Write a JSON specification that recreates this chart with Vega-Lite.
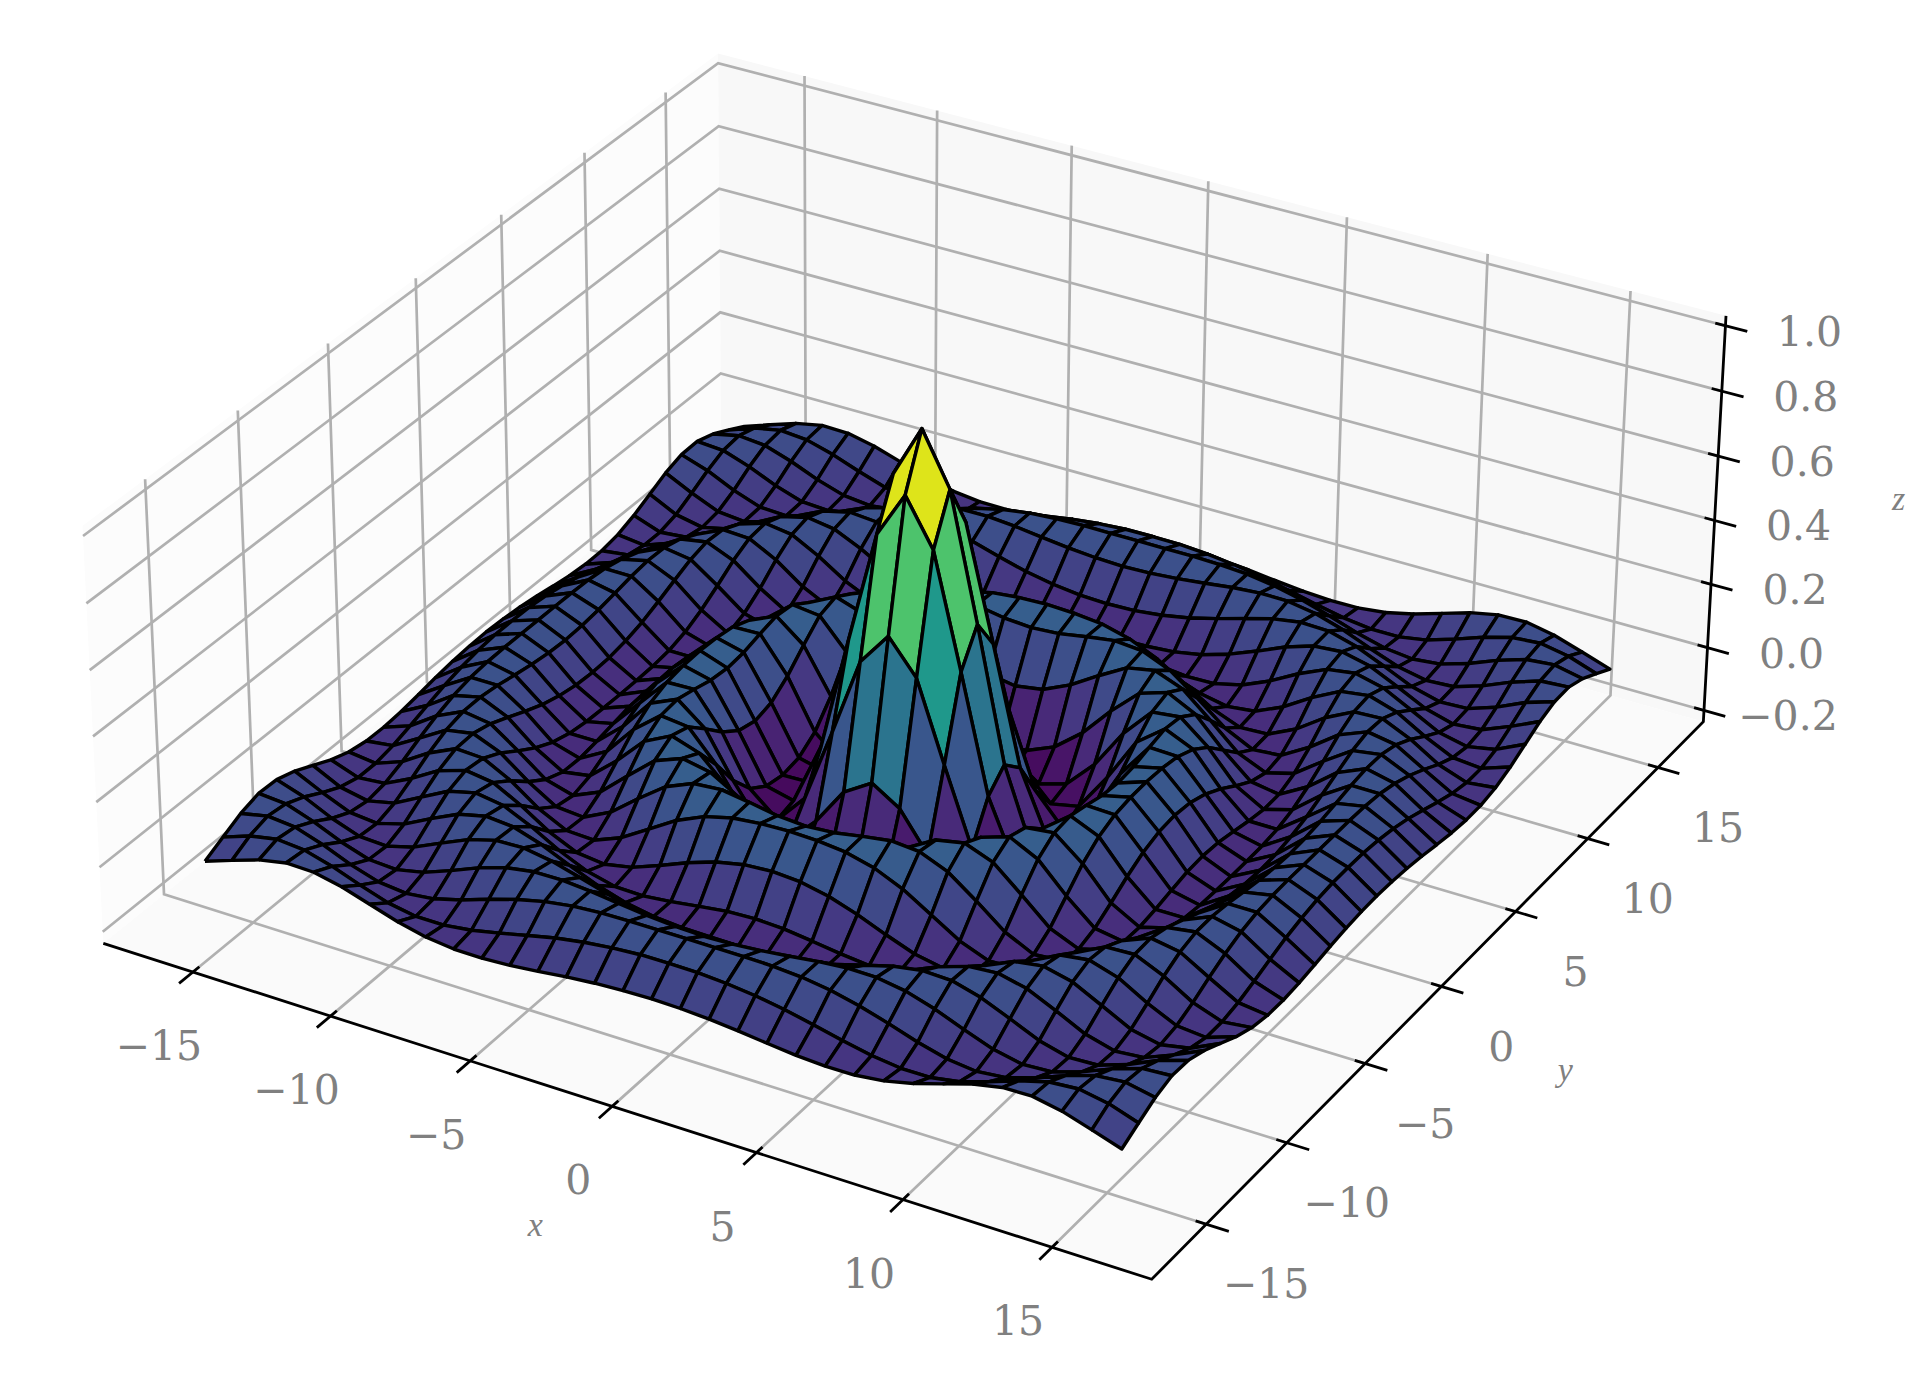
{"$schema":"https://vega.github.io/schema/vega-lite/v6.json","width":1927,"height":1388,"padding":0,"autosize":"none","background":"white","config":{"view":{"stroke":null}},
"datasets":{"axes":[
{"k":"pL","g":"pL","o":0,"x":-18.3,"y":-18.3,"z":-0.236},{"k":"pL","g":"pL","o":1,"x":-18.3,"y":18.3,"z":-0.236},{"k":"pL","g":"pL","o":2,"x":-18.3,"y":18.3,"z":1.03},{"k":"pL","g":"pL","o":3,"x":-18.3,"y":-18.3,"z":1.03},{"k":"pL","g":"pL","o":4,"x":-18.3,"y":-18.3,"z":-0.236},
{"k":"pR","g":"pR","o":0,"x":-18.3,"y":18.3,"z":-0.236},{"k":"pR","g":"pR","o":1,"x":18.3,"y":18.3,"z":-0.236},{"k":"pR","g":"pR","o":2,"x":18.3,"y":18.3,"z":1.03},{"k":"pR","g":"pR","o":3,"x":-18.3,"y":18.3,"z":1.03},{"k":"pR","g":"pR","o":4,"x":-18.3,"y":18.3,"z":-0.236},
{"k":"pF","g":"pF","o":0,"x":-18.3,"y":-18.3,"z":-0.236},{"k":"pF","g":"pF","o":1,"x":18.3,"y":-18.3,"z":-0.236},{"k":"pF","g":"pF","o":2,"x":18.3,"y":18.3,"z":-0.236},{"k":"pF","g":"pF","o":3,"x":-18.3,"y":18.3,"z":-0.236},{"k":"pF","g":"pF","o":4,"x":-18.3,"y":-18.3,"z":-0.236},
{"k":"grid","g":"x1","o":0,"x":-15,"y":-18.3,"z":-0.236},{"k":"grid","g":"x1","o":1,"x":-15,"y":18.3,"z":-0.236},{"k":"grid","g":"x1","o":2,"x":-15,"y":18.3,"z":1.03},
{"k":"grid","g":"x2","o":0,"x":-10,"y":-18.3,"z":-0.236},{"k":"grid","g":"x2","o":1,"x":-10,"y":18.3,"z":-0.236},{"k":"grid","g":"x2","o":2,"x":-10,"y":18.3,"z":1.03},
{"k":"grid","g":"x3","o":0,"x":-5,"y":-18.3,"z":-0.236},{"k":"grid","g":"x3","o":1,"x":-5,"y":18.3,"z":-0.236},{"k":"grid","g":"x3","o":2,"x":-5,"y":18.3,"z":1.03},
{"k":"grid","g":"x4","o":0,"x":0,"y":-18.3,"z":-0.236},{"k":"grid","g":"x4","o":1,"x":0,"y":18.3,"z":-0.236},{"k":"grid","g":"x4","o":2,"x":0,"y":18.3,"z":1.03},
{"k":"grid","g":"x5","o":0,"x":5,"y":-18.3,"z":-0.236},{"k":"grid","g":"x5","o":1,"x":5,"y":18.3,"z":-0.236},{"k":"grid","g":"x5","o":2,"x":5,"y":18.3,"z":1.03},
{"k":"grid","g":"x6","o":0,"x":10,"y":-18.3,"z":-0.236},{"k":"grid","g":"x6","o":1,"x":10,"y":18.3,"z":-0.236},{"k":"grid","g":"x6","o":2,"x":10,"y":18.3,"z":1.03},
{"k":"grid","g":"x7","o":0,"x":15,"y":-18.3,"z":-0.236},{"k":"grid","g":"x7","o":1,"x":15,"y":18.3,"z":-0.236},{"k":"grid","g":"x7","o":2,"x":15,"y":18.3,"z":1.03},
{"k":"grid","g":"y1","o":0,"x":18.3,"y":-15,"z":-0.236},{"k":"grid","g":"y1","o":1,"x":-18.3,"y":-15,"z":-0.236},{"k":"grid","g":"y1","o":2,"x":-18.3,"y":-15,"z":1.03},
{"k":"grid","g":"y2","o":0,"x":18.3,"y":-10,"z":-0.236},{"k":"grid","g":"y2","o":1,"x":-18.3,"y":-10,"z":-0.236},{"k":"grid","g":"y2","o":2,"x":-18.3,"y":-10,"z":1.03},
{"k":"grid","g":"y3","o":0,"x":18.3,"y":-5,"z":-0.236},{"k":"grid","g":"y3","o":1,"x":-18.3,"y":-5,"z":-0.236},{"k":"grid","g":"y3","o":2,"x":-18.3,"y":-5,"z":1.03},
{"k":"grid","g":"y4","o":0,"x":18.3,"y":0,"z":-0.236},{"k":"grid","g":"y4","o":1,"x":-18.3,"y":0,"z":-0.236},{"k":"grid","g":"y4","o":2,"x":-18.3,"y":0,"z":1.03},
{"k":"grid","g":"y5","o":0,"x":18.3,"y":5,"z":-0.236},{"k":"grid","g":"y5","o":1,"x":-18.3,"y":5,"z":-0.236},{"k":"grid","g":"y5","o":2,"x":-18.3,"y":5,"z":1.03},
{"k":"grid","g":"y6","o":0,"x":18.3,"y":10,"z":-0.236},{"k":"grid","g":"y6","o":1,"x":-18.3,"y":10,"z":-0.236},{"k":"grid","g":"y6","o":2,"x":-18.3,"y":10,"z":1.03},
{"k":"grid","g":"y7","o":0,"x":18.3,"y":15,"z":-0.236},{"k":"grid","g":"y7","o":1,"x":-18.3,"y":15,"z":-0.236},{"k":"grid","g":"y7","o":2,"x":-18.3,"y":15,"z":1.03},
{"k":"grid","g":"z1","o":0,"x":-18.3,"y":-18.3,"z":-0.2},{"k":"grid","g":"z1","o":1,"x":-18.3,"y":18.3,"z":-0.2},{"k":"grid","g":"z1","o":2,"x":18.3,"y":18.3,"z":-0.2},
{"k":"grid","g":"z2","o":0,"x":-18.3,"y":-18.3,"z":0},{"k":"grid","g":"z2","o":1,"x":-18.3,"y":18.3,"z":0},{"k":"grid","g":"z2","o":2,"x":18.3,"y":18.3,"z":0},
{"k":"grid","g":"z3","o":0,"x":-18.3,"y":-18.3,"z":0.2},{"k":"grid","g":"z3","o":1,"x":-18.3,"y":18.3,"z":0.2},{"k":"grid","g":"z3","o":2,"x":18.3,"y":18.3,"z":0.2},
{"k":"grid","g":"z4","o":0,"x":-18.3,"y":-18.3,"z":0.4},{"k":"grid","g":"z4","o":1,"x":-18.3,"y":18.3,"z":0.4},{"k":"grid","g":"z4","o":2,"x":18.3,"y":18.3,"z":0.4},
{"k":"grid","g":"z5","o":0,"x":-18.3,"y":-18.3,"z":0.6},{"k":"grid","g":"z5","o":1,"x":-18.3,"y":18.3,"z":0.6},{"k":"grid","g":"z5","o":2,"x":18.3,"y":18.3,"z":0.6},
{"k":"grid","g":"z6","o":0,"x":-18.3,"y":-18.3,"z":0.8},{"k":"grid","g":"z6","o":1,"x":-18.3,"y":18.3,"z":0.8},{"k":"grid","g":"z6","o":2,"x":18.3,"y":18.3,"z":0.8},
{"k":"grid","g":"z7","o":0,"x":-18.3,"y":-18.3,"z":1},{"k":"grid","g":"z7","o":1,"x":-18.3,"y":18.3,"z":1},{"k":"grid","g":"z7","o":2,"x":18.3,"y":18.3,"z":1},
{"k":"axis","g":"a","o":0,"x":-18.3,"y":-18.3,"z":-0.236},{"k":"axis","g":"a","o":1,"x":18.3,"y":-18.3,"z":-0.236},{"k":"axis","g":"a","o":2,"x":18.3,"y":18.3,"z":-0.236},{"k":"axis","g":"a","o":3,"x":18.3,"y":18.3,"z":1.03},
{"k":"axis","g":"tx1","o":0,"x":-15,"y":-17.95,"z":-0.236},{"k":"axis","g":"tx1","o":1,"x":-15,"y":-19.05,"z":-0.236},
{"k":"axis","g":"tx2","o":0,"x":-10,"y":-17.95,"z":-0.236},{"k":"axis","g":"tx2","o":1,"x":-10,"y":-19.05,"z":-0.236},
{"k":"axis","g":"tx3","o":0,"x":-5,"y":-17.95,"z":-0.236},{"k":"axis","g":"tx3","o":1,"x":-5,"y":-19.05,"z":-0.236},
{"k":"axis","g":"tx4","o":0,"x":0,"y":-17.95,"z":-0.236},{"k":"axis","g":"tx4","o":1,"x":0,"y":-19.05,"z":-0.236},
{"k":"axis","g":"tx5","o":0,"x":5,"y":-17.95,"z":-0.236},{"k":"axis","g":"tx5","o":1,"x":5,"y":-19.05,"z":-0.236},
{"k":"axis","g":"tx6","o":0,"x":10,"y":-17.95,"z":-0.236},{"k":"axis","g":"tx6","o":1,"x":10,"y":-19.05,"z":-0.236},
{"k":"axis","g":"tx7","o":0,"x":15,"y":-17.95,"z":-0.236},{"k":"axis","g":"tx7","o":1,"x":15,"y":-19.05,"z":-0.236},
{"k":"axis","g":"ty1","o":0,"x":17.95,"y":-15,"z":-0.236},{"k":"axis","g":"ty1","o":1,"x":19.05,"y":-15,"z":-0.236},
{"k":"axis","g":"ty2","o":0,"x":17.95,"y":-10,"z":-0.236},{"k":"axis","g":"ty2","o":1,"x":19.05,"y":-10,"z":-0.236},
{"k":"axis","g":"ty3","o":0,"x":17.95,"y":-5,"z":-0.236},{"k":"axis","g":"ty3","o":1,"x":19.05,"y":-5,"z":-0.236},
{"k":"axis","g":"ty4","o":0,"x":17.95,"y":0,"z":-0.236},{"k":"axis","g":"ty4","o":1,"x":19.05,"y":0,"z":-0.236},
{"k":"axis","g":"ty5","o":0,"x":17.95,"y":5,"z":-0.236},{"k":"axis","g":"ty5","o":1,"x":19.05,"y":5,"z":-0.236},
{"k":"axis","g":"ty6","o":0,"x":17.95,"y":10,"z":-0.236},{"k":"axis","g":"ty6","o":1,"x":19.05,"y":10,"z":-0.236},
{"k":"axis","g":"ty7","o":0,"x":17.95,"y":15,"z":-0.236},{"k":"axis","g":"ty7","o":1,"x":19.05,"y":15,"z":-0.236},
{"k":"axis","g":"tz1","o":0,"x":17.95,"y":18.3,"z":-0.2},{"k":"axis","g":"tz1","o":1,"x":19.05,"y":18.3,"z":-0.2},
{"k":"axis","g":"tz2","o":0,"x":17.95,"y":18.3,"z":0},{"k":"axis","g":"tz2","o":1,"x":19.05,"y":18.3,"z":0},
{"k":"axis","g":"tz3","o":0,"x":17.95,"y":18.3,"z":0.2},{"k":"axis","g":"tz3","o":1,"x":19.05,"y":18.3,"z":0.2},
{"k":"axis","g":"tz4","o":0,"x":17.95,"y":18.3,"z":0.4},{"k":"axis","g":"tz4","o":1,"x":19.05,"y":18.3,"z":0.4},
{"k":"axis","g":"tz5","o":0,"x":17.95,"y":18.3,"z":0.6},{"k":"axis","g":"tz5","o":1,"x":19.05,"y":18.3,"z":0.6},
{"k":"axis","g":"tz6","o":0,"x":17.95,"y":18.3,"z":0.8},{"k":"axis","g":"tz6","o":1,"x":19.05,"y":18.3,"z":0.8},
{"k":"axis","g":"tz7","o":0,"x":17.95,"y":18.3,"z":1},{"k":"axis","g":"tz7","o":1,"x":19.05,"y":18.3,"z":1},
{"k":"xt","t":"−15","x":-15,"y":-18.3,"z":-0.236},{"k":"xt","t":"−10","x":-10,"y":-18.3,"z":-0.236},{"k":"xt","t":"−5","x":-5,"y":-18.3,"z":-0.236},{"k":"xt","t":"0","x":0,"y":-18.3,"z":-0.236},{"k":"xt","t":"5","x":5,"y":-18.3,"z":-0.236},{"k":"xt","t":"10","x":10,"y":-18.3,"z":-0.236},{"k":"xt","t":"15","x":15,"y":-18.3,"z":-0.236},
{"k":"yt","t":"−15","x":18.3,"y":-15,"z":-0.236},{"k":"yt","t":"−10","x":18.3,"y":-10,"z":-0.236},{"k":"yt","t":"−5","x":18.3,"y":-5,"z":-0.236},{"k":"yt","t":"0","x":18.3,"y":0,"z":-0.236},{"k":"yt","t":"5","x":18.3,"y":5,"z":-0.236},{"k":"yt","t":"10","x":18.3,"y":10,"z":-0.236},{"k":"yt","t":"15","x":18.3,"y":15,"z":-0.236},
{"k":"zt","t":"−0.2","x":18.3,"y":18.3,"z":-0.2},{"k":"zt","t":"0.0","x":18.3,"y":18.3,"z":0},{"k":"zt","t":"0.2","x":18.3,"y":18.3,"z":0.2},{"k":"zt","t":"0.4","x":18.3,"y":18.3,"z":0.4},{"k":"zt","t":"0.6","x":18.3,"y":18.3,"z":0.6},{"k":"zt","t":"0.8","x":18.3,"y":18.3,"z":0.8},{"k":"zt","t":"1.0","x":18.3,"y":18.3,"z":1},
{"k":"xn","t":"x","x":0,"y":-18.3,"z":-0.236},{"k":"yn","t":"y","x":18.3,"y":0,"z":-0.236},{"k":"zn","t":"z","x":18.3,"y":18.3,"z":0.4}
],
"surface":[
{"x":-16,"y":16,"z":-0.026},{"x":-15,"y":16,"z":0.003},{"x":-14,"y":16,"z":0.031},{"x":-13,"y":16,"z":0.048},{"x":-12,"y":16,"z":0.046},{"x":-11,"y":16,"z":0.028},{"x":-10,"y":16,"z":0.001},{"x":-9,"y":16,"z":-0.026},{"x":-8,"y":16,"z":-0.046},{"x":-7,"y":16,"z":-0.056},{"x":-6,"y":16,"z":-0.057},{"x":-5,"y":16,"z":-0.052},{"x":-4,"y":16,"z":-0.043},{"x":-3,"y":16,"z":-0.033},{"x":-2,"y":16,"z":-0.025},{"x":-1,"y":16,"z":-0.02},{"x":0,"y":16,"z":-0.018},{"x":1,"y":16,"z":-0.02},{"x":2,"y":16,"z":-0.025},{"x":3,"y":16,"z":-0.033},{"x":4,"y":16,"z":-0.043},{"x":5,"y":16,"z":-0.052},{"x":6,"y":16,"z":-0.057},{"x":7,"y":16,"z":-0.056},{"x":8,"y":16,"z":-0.046},{"x":9,"y":16,"z":-0.026},{"x":10,"y":16,"z":0.001},{"x":11,"y":16,"z":0.028},{"x":12,"y":16,"z":0.046},{"x":13,"y":16,"z":0.048},{"x":14,"y":16,"z":0.031},{"x":15,"y":16,"z":0.003},{"x":16,"y":16,"z":-0.026},
{"x":-16,"y":15,"z":0.003},{"x":-15,"y":15,"z":0.033},{"x":-14,"y":15,"z":0.049},{"x":-13,"y":15,"z":0.042},{"x":-12,"y":15,"z":0.018},{"x":-11,"y":15,"z":-0.013},{"x":-10,"y":15,"z":-0.041},{"x":-9,"y":15,"z":-0.056},{"x":-8,"y":15,"z":-0.056},{"x":-7,"y":15,"z":-0.045},{"x":-6,"y":15,"z":-0.027},{"x":-5,"y":15,"z":-0.007},{"x":-4,"y":15,"z":0.012},{"x":-3,"y":15,"z":0.026},{"x":-2,"y":15,"z":0.036},{"x":-1,"y":15,"z":0.042},{"x":0,"y":15,"z":0.043},{"x":1,"y":15,"z":0.042},{"x":2,"y":15,"z":0.036},{"x":3,"y":15,"z":0.026},{"x":4,"y":15,"z":0.012},{"x":5,"y":15,"z":-0.007},{"x":6,"y":15,"z":-0.027},{"x":7,"y":15,"z":-0.045},{"x":8,"y":15,"z":-0.056},{"x":9,"y":15,"z":-0.056},{"x":10,"y":15,"z":-0.041},{"x":11,"y":15,"z":-0.013},{"x":12,"y":15,"z":0.018},{"x":13,"y":15,"z":0.042},{"x":14,"y":15,"z":0.049},{"x":15,"y":15,"z":0.033},{"x":16,"y":15,"z":0.003},
{"x":-16,"y":14,"z":0.031},{"x":-15,"y":14,"z":0.049},{"x":-14,"y":14,"z":0.041},{"x":-13,"y":14,"z":0.013},{"x":-12,"y":14,"z":-0.022},{"x":-11,"y":14,"z":-0.049},{"x":-10,"y":14,"z":-0.058},{"x":-9,"y":14,"z":-0.048},{"x":-8,"y":14,"z":-0.025},{"x":-7,"y":14,"z":0.004},{"x":-6,"y":14,"z":0.03},{"x":-5,"y":14,"z":0.05},{"x":-4,"y":14,"z":0.063},{"x":-3,"y":14,"z":0.069},{"x":-2,"y":14,"z":0.071},{"x":-1,"y":14,"z":0.071},{"x":0,"y":14,"z":0.071},{"x":1,"y":14,"z":0.071},{"x":2,"y":14,"z":0.071},{"x":3,"y":14,"z":0.069},{"x":4,"y":14,"z":0.063},{"x":5,"y":14,"z":0.05},{"x":6,"y":14,"z":0.03},{"x":7,"y":14,"z":0.004},{"x":8,"y":14,"z":-0.025},{"x":9,"y":14,"z":-0.048},{"x":10,"y":14,"z":-0.058},{"x":11,"y":14,"z":-0.049},{"x":12,"y":14,"z":-0.022},{"x":13,"y":14,"z":0.013},{"x":14,"y":14,"z":0.041},{"x":15,"y":14,"z":0.049},{"x":16,"y":14,"z":0.031},
{"x":-16,"y":13,"z":0.048},{"x":-15,"y":13,"z":0.042},{"x":-14,"y":13,"z":0.013},{"x":-13,"y":13,"z":-0.024},{"x":-12,"y":13,"z":-0.052},{"x":-11,"y":13,"z":-0.057},{"x":-10,"y":13,"z":-0.039},{"x":-9,"y":13,"z":-0.007},{"x":-8,"y":13,"z":0.028},{"x":-7,"y":13,"z":0.055},{"x":-6,"y":13,"z":0.069},{"x":-5,"y":13,"z":0.07},{"x":-4,"y":13,"z":0.063},{"x":-3,"y":13,"z":0.052},{"x":-2,"y":13,"z":0.042},{"x":-1,"y":13,"z":0.035},{"x":0,"y":13,"z":0.032},{"x":1,"y":13,"z":0.035},{"x":2,"y":13,"z":0.042},{"x":3,"y":13,"z":0.052},{"x":4,"y":13,"z":0.063},{"x":5,"y":13,"z":0.07},{"x":6,"y":13,"z":0.069},{"x":7,"y":13,"z":0.055},{"x":8,"y":13,"z":0.028},{"x":9,"y":13,"z":-0.007},{"x":10,"y":13,"z":-0.039},{"x":11,"y":13,"z":-0.057},{"x":12,"y":13,"z":-0.052},{"x":13,"y":13,"z":-0.024},{"x":14,"y":13,"z":0.013},{"x":15,"y":13,"z":0.042},{"x":16,"y":13,"z":0.048},
{"x":-16,"y":12,"z":0.046},{"x":-15,"y":12,"z":0.018},{"x":-14,"y":12,"z":-0.022},{"x":-13,"y":12,"z":-0.052},{"x":-12,"y":12,"z":-0.056},{"x":-11,"y":12,"z":-0.033},{"x":-10,"y":12,"z":0.006},{"x":-9,"y":12,"z":0.043},{"x":-8,"y":12,"z":0.067},{"x":-7,"y":12,"z":0.07},{"x":-6,"y":12,"z":0.056},{"x":-5,"y":12,"z":0.032},{"x":-4,"y":12,"z":0.007},{"x":-3,"y":12,"z":-0.016},{"x":-2,"y":12,"z":-0.032},{"x":-1,"y":12,"z":-0.042},{"x":0,"y":12,"z":-0.045},{"x":1,"y":12,"z":-0.042},{"x":2,"y":12,"z":-0.032},{"x":3,"y":12,"z":-0.016},{"x":4,"y":12,"z":0.007},{"x":5,"y":12,"z":0.032},{"x":6,"y":12,"z":0.056},{"x":7,"y":12,"z":0.07},{"x":8,"y":12,"z":0.067},{"x":9,"y":12,"z":0.043},{"x":10,"y":12,"z":0.006},{"x":11,"y":12,"z":-0.033},{"x":12,"y":12,"z":-0.056},{"x":13,"y":12,"z":-0.052},{"x":14,"y":12,"z":-0.022},{"x":15,"y":12,"z":0.018},{"x":16,"y":12,"z":0.046},
{"x":-16,"y":11,"z":0.028},{"x":-15,"y":11,"z":-0.013},{"x":-14,"y":11,"z":-0.049},{"x":-13,"y":11,"z":-0.057},{"x":-12,"y":11,"z":-0.033},{"x":-11,"y":11,"z":0.01},{"x":-10,"y":11,"z":0.05},{"x":-9,"y":11,"z":0.07},{"x":-8,"y":11,"z":0.063},{"x":-7,"y":11,"z":0.035},{"x":-6,"y":11,"z":-0.003},{"x":-5,"y":11,"z":-0.038},{"x":-4,"y":11,"z":-0.065},{"x":-3,"y":11,"z":-0.081},{"x":-2,"y":11,"z":-0.088},{"x":-1,"y":11,"z":-0.09},{"x":0,"y":11,"z":-0.091},{"x":1,"y":11,"z":-0.09},{"x":2,"y":11,"z":-0.088},{"x":3,"y":11,"z":-0.081},{"x":4,"y":11,"z":-0.065},{"x":5,"y":11,"z":-0.038},{"x":6,"y":11,"z":-0.003},{"x":7,"y":11,"z":0.035},{"x":8,"y":11,"z":0.063},{"x":9,"y":11,"z":0.07},{"x":10,"y":11,"z":0.05},{"x":11,"y":11,"z":0.01},{"x":12,"y":11,"z":-0.033},{"x":13,"y":11,"z":-0.057},{"x":14,"y":11,"z":-0.049},{"x":15,"y":11,"z":-0.013},{"x":16,"y":11,"z":0.028},
{"x":-16,"y":10,"z":0.001},{"x":-15,"y":10,"z":-0.041},{"x":-14,"y":10,"z":-0.058},{"x":-13,"y":10,"z":-0.039},{"x":-12,"y":10,"z":0.006},{"x":-11,"y":10,"z":0.05},{"x":-10,"y":10,"z":0.071},{"x":-9,"y":10,"z":0.058},{"x":-8,"y":10,"z":0.019},{"x":-7,"y":10,"z":-0.029},{"x":-6,"y":10,"z":-0.067},{"x":-5,"y":10,"z":-0.088},{"x":-4,"y":10,"z":-0.09},{"x":-3,"y":10,"z":-0.081},{"x":-2,"y":10,"z":-0.069},{"x":-1,"y":10,"z":-0.058},{"x":0,"y":10,"z":-0.054},{"x":1,"y":10,"z":-0.058},{"x":2,"y":10,"z":-0.069},{"x":3,"y":10,"z":-0.081},{"x":4,"y":10,"z":-0.09},{"x":5,"y":10,"z":-0.088},{"x":6,"y":10,"z":-0.067},{"x":7,"y":10,"z":-0.029},{"x":8,"y":10,"z":0.019},{"x":9,"y":10,"z":0.058},{"x":10,"y":10,"z":0.071},{"x":11,"y":10,"z":0.05},{"x":12,"y":10,"z":0.006},{"x":13,"y":10,"z":-0.039},{"x":14,"y":10,"z":-0.058},{"x":15,"y":10,"z":-0.041},{"x":16,"y":10,"z":0.001},
{"x":-16,"y":9,"z":-0.026},{"x":-15,"y":9,"z":-0.056},{"x":-14,"y":9,"z":-0.048},{"x":-13,"y":9,"z":-0.007},{"x":-12,"y":9,"z":0.043},{"x":-11,"y":9,"z":0.07},{"x":-10,"y":9,"z":0.058},{"x":-9,"y":9,"z":0.013},{"x":-8,"y":9,"z":-0.042},{"x":-7,"y":9,"z":-0.081},{"x":-6,"y":9,"z":-0.091},{"x":-5,"y":9,"z":-0.074},{"x":-4,"y":9,"z":-0.042},{"x":-3,"y":9,"z":-0.007},{"x":-2,"y":9,"z":0.022},{"x":-1,"y":9,"z":0.04},{"x":0,"y":9,"z":0.046},{"x":1,"y":9,"z":0.04},{"x":2,"y":9,"z":0.022},{"x":3,"y":9,"z":-0.007},{"x":4,"y":9,"z":-0.042},{"x":5,"y":9,"z":-0.074},{"x":6,"y":9,"z":-0.091},{"x":7,"y":9,"z":-0.081},{"x":8,"y":9,"z":-0.042},{"x":9,"y":9,"z":0.013},{"x":10,"y":9,"z":0.058},{"x":11,"y":9,"z":0.07},{"x":12,"y":9,"z":0.043},{"x":13,"y":9,"z":-0.007},{"x":14,"y":9,"z":-0.048},{"x":15,"y":9,"z":-0.056},{"x":16,"y":9,"z":-0.026},
{"x":-16,"y":8,"z":-0.046},{"x":-15,"y":8,"z":-0.056},{"x":-14,"y":8,"z":-0.025},{"x":-13,"y":8,"z":0.028},{"x":-12,"y":8,"z":0.067},{"x":-11,"y":8,"z":0.063},{"x":-10,"y":8,"z":0.019},{"x":-9,"y":8,"z":-0.042},{"x":-8,"y":8,"z":-0.084},{"x":-7,"y":8,"z":-0.088},{"x":-6,"y":8,"z":-0.054},{"x":-5,"y":8,"z":-0.001},{"x":-4,"y":8,"z":0.052},{"x":-3,"y":8,"z":0.09},{"x":-2,"y":8,"z":0.112},{"x":-1,"y":8,"z":0.121},{"x":0,"y":8,"z":0.124},{"x":1,"y":8,"z":0.121},{"x":2,"y":8,"z":0.112},{"x":3,"y":8,"z":0.09},{"x":4,"y":8,"z":0.052},{"x":5,"y":8,"z":-0.001},{"x":6,"y":8,"z":-0.054},{"x":7,"y":8,"z":-0.088},{"x":8,"y":8,"z":-0.084},{"x":9,"y":8,"z":-0.042},{"x":10,"y":8,"z":0.019},{"x":11,"y":8,"z":0.063},{"x":12,"y":8,"z":0.067},{"x":13,"y":8,"z":0.028},{"x":14,"y":8,"z":-0.025},{"x":15,"y":8,"z":-0.056},{"x":16,"y":8,"z":-0.046},
{"x":-16,"y":7,"z":-0.056},{"x":-15,"y":7,"z":-0.045},{"x":-14,"y":7,"z":0.004},{"x":-13,"y":7,"z":0.055},{"x":-12,"y":7,"z":0.07},{"x":-11,"y":7,"z":0.035},{"x":-10,"y":7,"z":-0.029},{"x":-9,"y":7,"z":-0.081},{"x":-8,"y":7,"z":-0.088},{"x":-7,"y":7,"z":-0.046},{"x":-6,"y":7,"z":0.022},{"x":-5,"y":7,"z":0.085},{"x":-4,"y":7,"z":0.121},{"x":-3,"y":7,"z":0.128},{"x":-2,"y":7,"z":0.115},{"x":-1,"y":7,"z":0.1},{"x":0,"y":7,"z":0.094},{"x":1,"y":7,"z":0.1},{"x":2,"y":7,"z":0.115},{"x":3,"y":7,"z":0.128},{"x":4,"y":7,"z":0.121},{"x":5,"y":7,"z":0.085},{"x":6,"y":7,"z":0.022},{"x":7,"y":7,"z":-0.046},{"x":8,"y":7,"z":-0.088},{"x":9,"y":7,"z":-0.081},{"x":10,"y":7,"z":-0.029},{"x":11,"y":7,"z":0.035},{"x":12,"y":7,"z":0.07},{"x":13,"y":7,"z":0.055},{"x":14,"y":7,"z":0.004},{"x":15,"y":7,"z":-0.045},{"x":16,"y":7,"z":-0.056},
{"x":-16,"y":6,"z":-0.057},{"x":-15,"y":6,"z":-0.027},{"x":-14,"y":6,"z":0.03},{"x":-13,"y":6,"z":0.069},{"x":-12,"y":6,"z":0.056},{"x":-11,"y":6,"z":-0.003},{"x":-10,"y":6,"z":-0.067},{"x":-9,"y":6,"z":-0.091},{"x":-8,"y":6,"z":-0.054},{"x":-7,"y":6,"z":0.022},{"x":-6,"y":6,"z":0.095},{"x":-5,"y":6,"z":0.128},{"x":-4,"y":6,"z":0.111},{"x":-3,"y":6,"z":0.061},{"x":-2,"y":6,"z":0.007},{"x":-1,"y":6,"z":-0.033},{"x":0,"y":6,"z":-0.047},{"x":1,"y":6,"z":-0.033},{"x":2,"y":6,"z":0.007},{"x":3,"y":6,"z":0.061},{"x":4,"y":6,"z":0.111},{"x":5,"y":6,"z":0.128},{"x":6,"y":6,"z":0.095},{"x":7,"y":6,"z":0.022},{"x":8,"y":6,"z":-0.054},{"x":9,"y":6,"z":-0.091},{"x":10,"y":6,"z":-0.067},{"x":11,"y":6,"z":-0.003},{"x":12,"y":6,"z":0.056},{"x":13,"y":6,"z":0.069},{"x":14,"y":6,"z":0.03},{"x":15,"y":6,"z":-0.027},{"x":16,"y":6,"z":-0.057},
{"x":-16,"y":5,"z":-0.052},{"x":-15,"y":5,"z":-0.007},{"x":-14,"y":5,"z":0.05},{"x":-13,"y":5,"z":0.07},{"x":-12,"y":5,"z":0.032},{"x":-11,"y":5,"z":-0.038},{"x":-10,"y":5,"z":-0.088},{"x":-9,"y":5,"z":-0.074},{"x":-8,"y":5,"z":-0.001},{"x":-7,"y":5,"z":0.085},{"x":-6,"y":5,"z":0.128},{"x":-5,"y":5,"z":0.1},{"x":-4,"y":5,"z":0.019},{"x":-3,"y":5,"z":-0.075},{"x":-2,"y":5,"z":-0.145},{"x":-1,"y":5,"z":-0.182},{"x":0,"y":5,"z":-0.192},{"x":1,"y":5,"z":-0.182},{"x":2,"y":5,"z":-0.145},{"x":3,"y":5,"z":-0.075},{"x":4,"y":5,"z":0.019},{"x":5,"y":5,"z":0.1},{"x":6,"y":5,"z":0.128},{"x":7,"y":5,"z":0.085},{"x":8,"y":5,"z":-0.001},{"x":9,"y":5,"z":-0.074},{"x":10,"y":5,"z":-0.088},{"x":11,"y":5,"z":-0.038},{"x":12,"y":5,"z":0.032},{"x":13,"y":5,"z":0.07},{"x":14,"y":5,"z":0.05},{"x":15,"y":5,"z":-0.007},{"x":16,"y":5,"z":-0.052},
{"x":-16,"y":4,"z":-0.043},{"x":-15,"y":4,"z":0.012},{"x":-14,"y":4,"z":0.063},{"x":-13,"y":4,"z":0.063},{"x":-12,"y":4,"z":0.007},{"x":-11,"y":4,"z":-0.065},{"x":-10,"y":4,"z":-0.09},{"x":-9,"y":4,"z":-0.042},{"x":-8,"y":4,"z":0.052},{"x":-7,"y":4,"z":0.121},{"x":-6,"y":4,"z":0.111},{"x":-5,"y":4,"z":0.019},{"x":-4,"y":4,"z":-0.104},{"x":-3,"y":4,"z":-0.192},{"x":-2,"y":4,"z":-0.217},{"x":-1,"y":4,"z":-0.202},{"x":0,"y":4,"z":-0.189},{"x":1,"y":4,"z":-0.202},{"x":2,"y":4,"z":-0.217},{"x":3,"y":4,"z":-0.192},{"x":4,"y":4,"z":-0.104},{"x":5,"y":4,"z":0.019},{"x":6,"y":4,"z":0.111},{"x":7,"y":4,"z":0.121},{"x":8,"y":4,"z":0.052},{"x":9,"y":4,"z":-0.042},{"x":10,"y":4,"z":-0.09},{"x":11,"y":4,"z":-0.065},{"x":12,"y":4,"z":0.007},{"x":13,"y":4,"z":0.063},{"x":14,"y":4,"z":0.063},{"x":15,"y":4,"z":0.012},{"x":16,"y":4,"z":-0.043},
{"x":-16,"y":3,"z":-0.033},{"x":-15,"y":3,"z":0.026},{"x":-14,"y":3,"z":0.069},{"x":-13,"y":3,"z":0.052},{"x":-12,"y":3,"z":-0.016},{"x":-11,"y":3,"z":-0.081},{"x":-10,"y":3,"z":-0.081},{"x":-9,"y":3,"z":-0.007},{"x":-8,"y":3,"z":0.09},{"x":-7,"y":3,"z":0.128},{"x":-6,"y":3,"z":0.061},{"x":-5,"y":3,"z":-0.075},{"x":-4,"y":3,"z":-0.192},{"x":-3,"y":3,"z":-0.21},{"x":-2,"y":3,"z":-0.124},{"x":-1,"y":3,"z":-0.007},{"x":0,"y":3,"z":0.047},{"x":1,"y":3,"z":-0.007},{"x":2,"y":3,"z":-0.124},{"x":3,"y":3,"z":-0.21},{"x":4,"y":3,"z":-0.192},{"x":5,"y":3,"z":-0.075},{"x":6,"y":3,"z":0.061},{"x":7,"y":3,"z":0.128},{"x":8,"y":3,"z":0.09},{"x":9,"y":3,"z":-0.007},{"x":10,"y":3,"z":-0.081},{"x":11,"y":3,"z":-0.081},{"x":12,"y":3,"z":-0.016},{"x":13,"y":3,"z":0.052},{"x":14,"y":3,"z":0.069},{"x":15,"y":3,"z":0.026},{"x":16,"y":3,"z":-0.033},
{"x":-16,"y":2,"z":-0.025},{"x":-15,"y":2,"z":0.036},{"x":-14,"y":2,"z":0.071},{"x":-13,"y":2,"z":0.042},{"x":-12,"y":2,"z":-0.032},{"x":-11,"y":2,"z":-0.088},{"x":-10,"y":2,"z":-0.069},{"x":-9,"y":2,"z":0.022},{"x":-8,"y":2,"z":0.112},{"x":-7,"y":2,"z":0.115},{"x":-6,"y":2,"z":0.007},{"x":-5,"y":2,"z":-0.145},{"x":-4,"y":2,"z":-0.217},{"x":-3,"y":2,"z":-0.124},{"x":-2,"y":2,"z":0.109},{"x":-1,"y":2,"z":0.352},{"x":0,"y":2,"z":0.455},{"x":1,"y":2,"z":0.352},{"x":2,"y":2,"z":0.109},{"x":3,"y":2,"z":-0.124},{"x":4,"y":2,"z":-0.217},{"x":5,"y":2,"z":-0.145},{"x":6,"y":2,"z":0.007},{"x":7,"y":2,"z":0.115},{"x":8,"y":2,"z":0.112},{"x":9,"y":2,"z":0.022},{"x":10,"y":2,"z":-0.069},{"x":11,"y":2,"z":-0.088},{"x":12,"y":2,"z":-0.032},{"x":13,"y":2,"z":0.042},{"x":14,"y":2,"z":0.071},{"x":15,"y":2,"z":0.036},{"x":16,"y":2,"z":-0.025},
{"x":-16,"y":1,"z":-0.02},{"x":-15,"y":1,"z":0.042},{"x":-14,"y":1,"z":0.071},{"x":-13,"y":1,"z":0.035},{"x":-12,"y":1,"z":-0.042},{"x":-11,"y":1,"z":-0.09},{"x":-10,"y":1,"z":-0.058},{"x":-9,"y":1,"z":0.04},{"x":-8,"y":1,"z":0.121},{"x":-7,"y":1,"z":0.1},{"x":-6,"y":1,"z":-0.033},{"x":-5,"y":1,"z":-0.182},{"x":-4,"y":1,"z":-0.202},{"x":-3,"y":1,"z":-0.007},{"x":-2,"y":1,"z":0.352},{"x":-1,"y":1,"z":0.699},{"x":0,"y":1,"z":0.841},{"x":1,"y":1,"z":0.699},{"x":2,"y":1,"z":0.352},{"x":3,"y":1,"z":-0.007},{"x":4,"y":1,"z":-0.202},{"x":5,"y":1,"z":-0.182},{"x":6,"y":1,"z":-0.033},{"x":7,"y":1,"z":0.1},{"x":8,"y":1,"z":0.121},{"x":9,"y":1,"z":0.04},{"x":10,"y":1,"z":-0.058},{"x":11,"y":1,"z":-0.09},{"x":12,"y":1,"z":-0.042},{"x":13,"y":1,"z":0.035},{"x":14,"y":1,"z":0.071},{"x":15,"y":1,"z":0.042},{"x":16,"y":1,"z":-0.02},
{"x":-16,"y":0,"z":-0.018},{"x":-15,"y":0,"z":0.043},{"x":-14,"y":0,"z":0.071},{"x":-13,"y":0,"z":0.032},{"x":-12,"y":0,"z":-0.045},{"x":-11,"y":0,"z":-0.091},{"x":-10,"y":0,"z":-0.054},{"x":-9,"y":0,"z":0.046},{"x":-8,"y":0,"z":0.124},{"x":-7,"y":0,"z":0.094},{"x":-6,"y":0,"z":-0.047},{"x":-5,"y":0,"z":-0.192},{"x":-4,"y":0,"z":-0.189},{"x":-3,"y":0,"z":0.047},{"x":-2,"y":0,"z":0.455},{"x":-1,"y":0,"z":0.841},{"x":0,"y":0,"z":1},{"x":1,"y":0,"z":0.841},{"x":2,"y":0,"z":0.455},{"x":3,"y":0,"z":0.047},{"x":4,"y":0,"z":-0.189},{"x":5,"y":0,"z":-0.192},{"x":6,"y":0,"z":-0.047},{"x":7,"y":0,"z":0.094},{"x":8,"y":0,"z":0.124},{"x":9,"y":0,"z":0.046},{"x":10,"y":0,"z":-0.054},{"x":11,"y":0,"z":-0.091},{"x":12,"y":0,"z":-0.045},{"x":13,"y":0,"z":0.032},{"x":14,"y":0,"z":0.071},{"x":15,"y":0,"z":0.043},{"x":16,"y":0,"z":-0.018},
{"x":-16,"y":-1,"z":-0.02},{"x":-15,"y":-1,"z":0.042},{"x":-14,"y":-1,"z":0.071},{"x":-13,"y":-1,"z":0.035},{"x":-12,"y":-1,"z":-0.042},{"x":-11,"y":-1,"z":-0.09},{"x":-10,"y":-1,"z":-0.058},{"x":-9,"y":-1,"z":0.04},{"x":-8,"y":-1,"z":0.121},{"x":-7,"y":-1,"z":0.1},{"x":-6,"y":-1,"z":-0.033},{"x":-5,"y":-1,"z":-0.182},{"x":-4,"y":-1,"z":-0.202},{"x":-3,"y":-1,"z":-0.007},{"x":-2,"y":-1,"z":0.352},{"x":-1,"y":-1,"z":0.699},{"x":0,"y":-1,"z":0.841},{"x":1,"y":-1,"z":0.699},{"x":2,"y":-1,"z":0.352},{"x":3,"y":-1,"z":-0.007},{"x":4,"y":-1,"z":-0.202},{"x":5,"y":-1,"z":-0.182},{"x":6,"y":-1,"z":-0.033},{"x":7,"y":-1,"z":0.1},{"x":8,"y":-1,"z":0.121},{"x":9,"y":-1,"z":0.04},{"x":10,"y":-1,"z":-0.058},{"x":11,"y":-1,"z":-0.09},{"x":12,"y":-1,"z":-0.042},{"x":13,"y":-1,"z":0.035},{"x":14,"y":-1,"z":0.071},{"x":15,"y":-1,"z":0.042},{"x":16,"y":-1,"z":-0.02},
{"x":-16,"y":-2,"z":-0.025},{"x":-15,"y":-2,"z":0.036},{"x":-14,"y":-2,"z":0.071},{"x":-13,"y":-2,"z":0.042},{"x":-12,"y":-2,"z":-0.032},{"x":-11,"y":-2,"z":-0.088},{"x":-10,"y":-2,"z":-0.069},{"x":-9,"y":-2,"z":0.022},{"x":-8,"y":-2,"z":0.112},{"x":-7,"y":-2,"z":0.115},{"x":-6,"y":-2,"z":0.007},{"x":-5,"y":-2,"z":-0.145},{"x":-4,"y":-2,"z":-0.217},{"x":-3,"y":-2,"z":-0.124},{"x":-2,"y":-2,"z":0.109},{"x":-1,"y":-2,"z":0.352},{"x":0,"y":-2,"z":0.455},{"x":1,"y":-2,"z":0.352},{"x":2,"y":-2,"z":0.109},{"x":3,"y":-2,"z":-0.124},{"x":4,"y":-2,"z":-0.217},{"x":5,"y":-2,"z":-0.145},{"x":6,"y":-2,"z":0.007},{"x":7,"y":-2,"z":0.115},{"x":8,"y":-2,"z":0.112},{"x":9,"y":-2,"z":0.022},{"x":10,"y":-2,"z":-0.069},{"x":11,"y":-2,"z":-0.088},{"x":12,"y":-2,"z":-0.032},{"x":13,"y":-2,"z":0.042},{"x":14,"y":-2,"z":0.071},{"x":15,"y":-2,"z":0.036},{"x":16,"y":-2,"z":-0.025},
{"x":-16,"y":-3,"z":-0.033},{"x":-15,"y":-3,"z":0.026},{"x":-14,"y":-3,"z":0.069},{"x":-13,"y":-3,"z":0.052},{"x":-12,"y":-3,"z":-0.016},{"x":-11,"y":-3,"z":-0.081},{"x":-10,"y":-3,"z":-0.081},{"x":-9,"y":-3,"z":-0.007},{"x":-8,"y":-3,"z":0.09},{"x":-7,"y":-3,"z":0.128},{"x":-6,"y":-3,"z":0.061},{"x":-5,"y":-3,"z":-0.075},{"x":-4,"y":-3,"z":-0.192},{"x":-3,"y":-3,"z":-0.21},{"x":-2,"y":-3,"z":-0.124},{"x":-1,"y":-3,"z":-0.007},{"x":0,"y":-3,"z":0.047},{"x":1,"y":-3,"z":-0.007},{"x":2,"y":-3,"z":-0.124},{"x":3,"y":-3,"z":-0.21},{"x":4,"y":-3,"z":-0.192},{"x":5,"y":-3,"z":-0.075},{"x":6,"y":-3,"z":0.061},{"x":7,"y":-3,"z":0.128},{"x":8,"y":-3,"z":0.09},{"x":9,"y":-3,"z":-0.007},{"x":10,"y":-3,"z":-0.081},{"x":11,"y":-3,"z":-0.081},{"x":12,"y":-3,"z":-0.016},{"x":13,"y":-3,"z":0.052},{"x":14,"y":-3,"z":0.069},{"x":15,"y":-3,"z":0.026},{"x":16,"y":-3,"z":-0.033},
{"x":-16,"y":-4,"z":-0.043},{"x":-15,"y":-4,"z":0.012},{"x":-14,"y":-4,"z":0.063},{"x":-13,"y":-4,"z":0.063},{"x":-12,"y":-4,"z":0.007},{"x":-11,"y":-4,"z":-0.065},{"x":-10,"y":-4,"z":-0.09},{"x":-9,"y":-4,"z":-0.042},{"x":-8,"y":-4,"z":0.052},{"x":-7,"y":-4,"z":0.121},{"x":-6,"y":-4,"z":0.111},{"x":-5,"y":-4,"z":0.019},{"x":-4,"y":-4,"z":-0.104},{"x":-3,"y":-4,"z":-0.192},{"x":-2,"y":-4,"z":-0.217},{"x":-1,"y":-4,"z":-0.202},{"x":0,"y":-4,"z":-0.189},{"x":1,"y":-4,"z":-0.202},{"x":2,"y":-4,"z":-0.217},{"x":3,"y":-4,"z":-0.192},{"x":4,"y":-4,"z":-0.104},{"x":5,"y":-4,"z":0.019},{"x":6,"y":-4,"z":0.111},{"x":7,"y":-4,"z":0.121},{"x":8,"y":-4,"z":0.052},{"x":9,"y":-4,"z":-0.042},{"x":10,"y":-4,"z":-0.09},{"x":11,"y":-4,"z":-0.065},{"x":12,"y":-4,"z":0.007},{"x":13,"y":-4,"z":0.063},{"x":14,"y":-4,"z":0.063},{"x":15,"y":-4,"z":0.012},{"x":16,"y":-4,"z":-0.043},
{"x":-16,"y":-5,"z":-0.052},{"x":-15,"y":-5,"z":-0.007},{"x":-14,"y":-5,"z":0.05},{"x":-13,"y":-5,"z":0.07},{"x":-12,"y":-5,"z":0.032},{"x":-11,"y":-5,"z":-0.038},{"x":-10,"y":-5,"z":-0.088},{"x":-9,"y":-5,"z":-0.074},{"x":-8,"y":-5,"z":-0.001},{"x":-7,"y":-5,"z":0.085},{"x":-6,"y":-5,"z":0.128},{"x":-5,"y":-5,"z":0.1},{"x":-4,"y":-5,"z":0.019},{"x":-3,"y":-5,"z":-0.075},{"x":-2,"y":-5,"z":-0.145},{"x":-1,"y":-5,"z":-0.182},{"x":0,"y":-5,"z":-0.192},{"x":1,"y":-5,"z":-0.182},{"x":2,"y":-5,"z":-0.145},{"x":3,"y":-5,"z":-0.075},{"x":4,"y":-5,"z":0.019},{"x":5,"y":-5,"z":0.1},{"x":6,"y":-5,"z":0.128},{"x":7,"y":-5,"z":0.085},{"x":8,"y":-5,"z":-0.001},{"x":9,"y":-5,"z":-0.074},{"x":10,"y":-5,"z":-0.088},{"x":11,"y":-5,"z":-0.038},{"x":12,"y":-5,"z":0.032},{"x":13,"y":-5,"z":0.07},{"x":14,"y":-5,"z":0.05},{"x":15,"y":-5,"z":-0.007},{"x":16,"y":-5,"z":-0.052},
{"x":-16,"y":-6,"z":-0.057},{"x":-15,"y":-6,"z":-0.027},{"x":-14,"y":-6,"z":0.03},{"x":-13,"y":-6,"z":0.069},{"x":-12,"y":-6,"z":0.056},{"x":-11,"y":-6,"z":-0.003},{"x":-10,"y":-6,"z":-0.067},{"x":-9,"y":-6,"z":-0.091},{"x":-8,"y":-6,"z":-0.054},{"x":-7,"y":-6,"z":0.022},{"x":-6,"y":-6,"z":0.095},{"x":-5,"y":-6,"z":0.128},{"x":-4,"y":-6,"z":0.111},{"x":-3,"y":-6,"z":0.061},{"x":-2,"y":-6,"z":0.007},{"x":-1,"y":-6,"z":-0.033},{"x":0,"y":-6,"z":-0.047},{"x":1,"y":-6,"z":-0.033},{"x":2,"y":-6,"z":0.007},{"x":3,"y":-6,"z":0.061},{"x":4,"y":-6,"z":0.111},{"x":5,"y":-6,"z":0.128},{"x":6,"y":-6,"z":0.095},{"x":7,"y":-6,"z":0.022},{"x":8,"y":-6,"z":-0.054},{"x":9,"y":-6,"z":-0.091},{"x":10,"y":-6,"z":-0.067},{"x":11,"y":-6,"z":-0.003},{"x":12,"y":-6,"z":0.056},{"x":13,"y":-6,"z":0.069},{"x":14,"y":-6,"z":0.03},{"x":15,"y":-6,"z":-0.027},{"x":16,"y":-6,"z":-0.057},
{"x":-16,"y":-7,"z":-0.056},{"x":-15,"y":-7,"z":-0.045},{"x":-14,"y":-7,"z":0.004},{"x":-13,"y":-7,"z":0.055},{"x":-12,"y":-7,"z":0.07},{"x":-11,"y":-7,"z":0.035},{"x":-10,"y":-7,"z":-0.029},{"x":-9,"y":-7,"z":-0.081},{"x":-8,"y":-7,"z":-0.088},{"x":-7,"y":-7,"z":-0.046},{"x":-6,"y":-7,"z":0.022},{"x":-5,"y":-7,"z":0.085},{"x":-4,"y":-7,"z":0.121},{"x":-3,"y":-7,"z":0.128},{"x":-2,"y":-7,"z":0.115},{"x":-1,"y":-7,"z":0.1},{"x":0,"y":-7,"z":0.094},{"x":1,"y":-7,"z":0.1},{"x":2,"y":-7,"z":0.115},{"x":3,"y":-7,"z":0.128},{"x":4,"y":-7,"z":0.121},{"x":5,"y":-7,"z":0.085},{"x":6,"y":-7,"z":0.022},{"x":7,"y":-7,"z":-0.046},{"x":8,"y":-7,"z":-0.088},{"x":9,"y":-7,"z":-0.081},{"x":10,"y":-7,"z":-0.029},{"x":11,"y":-7,"z":0.035},{"x":12,"y":-7,"z":0.07},{"x":13,"y":-7,"z":0.055},{"x":14,"y":-7,"z":0.004},{"x":15,"y":-7,"z":-0.045},{"x":16,"y":-7,"z":-0.056},
{"x":-16,"y":-8,"z":-0.046},{"x":-15,"y":-8,"z":-0.056},{"x":-14,"y":-8,"z":-0.025},{"x":-13,"y":-8,"z":0.028},{"x":-12,"y":-8,"z":0.067},{"x":-11,"y":-8,"z":0.063},{"x":-10,"y":-8,"z":0.019},{"x":-9,"y":-8,"z":-0.042},{"x":-8,"y":-8,"z":-0.084},{"x":-7,"y":-8,"z":-0.088},{"x":-6,"y":-8,"z":-0.054},{"x":-5,"y":-8,"z":-0.001},{"x":-4,"y":-8,"z":0.052},{"x":-3,"y":-8,"z":0.09},{"x":-2,"y":-8,"z":0.112},{"x":-1,"y":-8,"z":0.121},{"x":0,"y":-8,"z":0.124},{"x":1,"y":-8,"z":0.121},{"x":2,"y":-8,"z":0.112},{"x":3,"y":-8,"z":0.09},{"x":4,"y":-8,"z":0.052},{"x":5,"y":-8,"z":-0.001},{"x":6,"y":-8,"z":-0.054},{"x":7,"y":-8,"z":-0.088},{"x":8,"y":-8,"z":-0.084},{"x":9,"y":-8,"z":-0.042},{"x":10,"y":-8,"z":0.019},{"x":11,"y":-8,"z":0.063},{"x":12,"y":-8,"z":0.067},{"x":13,"y":-8,"z":0.028},{"x":14,"y":-8,"z":-0.025},{"x":15,"y":-8,"z":-0.056},{"x":16,"y":-8,"z":-0.046},
{"x":-16,"y":-9,"z":-0.026},{"x":-15,"y":-9,"z":-0.056},{"x":-14,"y":-9,"z":-0.048},{"x":-13,"y":-9,"z":-0.007},{"x":-12,"y":-9,"z":0.043},{"x":-11,"y":-9,"z":0.07},{"x":-10,"y":-9,"z":0.058},{"x":-9,"y":-9,"z":0.013},{"x":-8,"y":-9,"z":-0.042},{"x":-7,"y":-9,"z":-0.081},{"x":-6,"y":-9,"z":-0.091},{"x":-5,"y":-9,"z":-0.074},{"x":-4,"y":-9,"z":-0.042},{"x":-3,"y":-9,"z":-0.007},{"x":-2,"y":-9,"z":0.022},{"x":-1,"y":-9,"z":0.04},{"x":0,"y":-9,"z":0.046},{"x":1,"y":-9,"z":0.04},{"x":2,"y":-9,"z":0.022},{"x":3,"y":-9,"z":-0.007},{"x":4,"y":-9,"z":-0.042},{"x":5,"y":-9,"z":-0.074},{"x":6,"y":-9,"z":-0.091},{"x":7,"y":-9,"z":-0.081},{"x":8,"y":-9,"z":-0.042},{"x":9,"y":-9,"z":0.013},{"x":10,"y":-9,"z":0.058},{"x":11,"y":-9,"z":0.07},{"x":12,"y":-9,"z":0.043},{"x":13,"y":-9,"z":-0.007},{"x":14,"y":-9,"z":-0.048},{"x":15,"y":-9,"z":-0.056},{"x":16,"y":-9,"z":-0.026},
{"x":-16,"y":-10,"z":0.001},{"x":-15,"y":-10,"z":-0.041},{"x":-14,"y":-10,"z":-0.058},{"x":-13,"y":-10,"z":-0.039},{"x":-12,"y":-10,"z":0.006},{"x":-11,"y":-10,"z":0.05},{"x":-10,"y":-10,"z":0.071},{"x":-9,"y":-10,"z":0.058},{"x":-8,"y":-10,"z":0.019},{"x":-7,"y":-10,"z":-0.029},{"x":-6,"y":-10,"z":-0.067},{"x":-5,"y":-10,"z":-0.088},{"x":-4,"y":-10,"z":-0.09},{"x":-3,"y":-10,"z":-0.081},{"x":-2,"y":-10,"z":-0.069},{"x":-1,"y":-10,"z":-0.058},{"x":0,"y":-10,"z":-0.054},{"x":1,"y":-10,"z":-0.058},{"x":2,"y":-10,"z":-0.069},{"x":3,"y":-10,"z":-0.081},{"x":4,"y":-10,"z":-0.09},{"x":5,"y":-10,"z":-0.088},{"x":6,"y":-10,"z":-0.067},{"x":7,"y":-10,"z":-0.029},{"x":8,"y":-10,"z":0.019},{"x":9,"y":-10,"z":0.058},{"x":10,"y":-10,"z":0.071},{"x":11,"y":-10,"z":0.05},{"x":12,"y":-10,"z":0.006},{"x":13,"y":-10,"z":-0.039},{"x":14,"y":-10,"z":-0.058},{"x":15,"y":-10,"z":-0.041},{"x":16,"y":-10,"z":0.001},
{"x":-16,"y":-11,"z":0.028},{"x":-15,"y":-11,"z":-0.013},{"x":-14,"y":-11,"z":-0.049},{"x":-13,"y":-11,"z":-0.057},{"x":-12,"y":-11,"z":-0.033},{"x":-11,"y":-11,"z":0.01},{"x":-10,"y":-11,"z":0.05},{"x":-9,"y":-11,"z":0.07},{"x":-8,"y":-11,"z":0.063},{"x":-7,"y":-11,"z":0.035},{"x":-6,"y":-11,"z":-0.003},{"x":-5,"y":-11,"z":-0.038},{"x":-4,"y":-11,"z":-0.065},{"x":-3,"y":-11,"z":-0.081},{"x":-2,"y":-11,"z":-0.088},{"x":-1,"y":-11,"z":-0.09},{"x":0,"y":-11,"z":-0.091},{"x":1,"y":-11,"z":-0.09},{"x":2,"y":-11,"z":-0.088},{"x":3,"y":-11,"z":-0.081},{"x":4,"y":-11,"z":-0.065},{"x":5,"y":-11,"z":-0.038},{"x":6,"y":-11,"z":-0.003},{"x":7,"y":-11,"z":0.035},{"x":8,"y":-11,"z":0.063},{"x":9,"y":-11,"z":0.07},{"x":10,"y":-11,"z":0.05},{"x":11,"y":-11,"z":0.01},{"x":12,"y":-11,"z":-0.033},{"x":13,"y":-11,"z":-0.057},{"x":14,"y":-11,"z":-0.049},{"x":15,"y":-11,"z":-0.013},{"x":16,"y":-11,"z":0.028},
{"x":-16,"y":-12,"z":0.046},{"x":-15,"y":-12,"z":0.018},{"x":-14,"y":-12,"z":-0.022},{"x":-13,"y":-12,"z":-0.052},{"x":-12,"y":-12,"z":-0.056},{"x":-11,"y":-12,"z":-0.033},{"x":-10,"y":-12,"z":0.006},{"x":-9,"y":-12,"z":0.043},{"x":-8,"y":-12,"z":0.067},{"x":-7,"y":-12,"z":0.07},{"x":-6,"y":-12,"z":0.056},{"x":-5,"y":-12,"z":0.032},{"x":-4,"y":-12,"z":0.007},{"x":-3,"y":-12,"z":-0.016},{"x":-2,"y":-12,"z":-0.032},{"x":-1,"y":-12,"z":-0.042},{"x":0,"y":-12,"z":-0.045},{"x":1,"y":-12,"z":-0.042},{"x":2,"y":-12,"z":-0.032},{"x":3,"y":-12,"z":-0.016},{"x":4,"y":-12,"z":0.007},{"x":5,"y":-12,"z":0.032},{"x":6,"y":-12,"z":0.056},{"x":7,"y":-12,"z":0.07},{"x":8,"y":-12,"z":0.067},{"x":9,"y":-12,"z":0.043},{"x":10,"y":-12,"z":0.006},{"x":11,"y":-12,"z":-0.033},{"x":12,"y":-12,"z":-0.056},{"x":13,"y":-12,"z":-0.052},{"x":14,"y":-12,"z":-0.022},{"x":15,"y":-12,"z":0.018},{"x":16,"y":-12,"z":0.046},
{"x":-16,"y":-13,"z":0.048},{"x":-15,"y":-13,"z":0.042},{"x":-14,"y":-13,"z":0.013},{"x":-13,"y":-13,"z":-0.024},{"x":-12,"y":-13,"z":-0.052},{"x":-11,"y":-13,"z":-0.057},{"x":-10,"y":-13,"z":-0.039},{"x":-9,"y":-13,"z":-0.007},{"x":-8,"y":-13,"z":0.028},{"x":-7,"y":-13,"z":0.055},{"x":-6,"y":-13,"z":0.069},{"x":-5,"y":-13,"z":0.07},{"x":-4,"y":-13,"z":0.063},{"x":-3,"y":-13,"z":0.052},{"x":-2,"y":-13,"z":0.042},{"x":-1,"y":-13,"z":0.035},{"x":0,"y":-13,"z":0.032},{"x":1,"y":-13,"z":0.035},{"x":2,"y":-13,"z":0.042},{"x":3,"y":-13,"z":0.052},{"x":4,"y":-13,"z":0.063},{"x":5,"y":-13,"z":0.07},{"x":6,"y":-13,"z":0.069},{"x":7,"y":-13,"z":0.055},{"x":8,"y":-13,"z":0.028},{"x":9,"y":-13,"z":-0.007},{"x":10,"y":-13,"z":-0.039},{"x":11,"y":-13,"z":-0.057},{"x":12,"y":-13,"z":-0.052},{"x":13,"y":-13,"z":-0.024},{"x":14,"y":-13,"z":0.013},{"x":15,"y":-13,"z":0.042},{"x":16,"y":-13,"z":0.048},
{"x":-16,"y":-14,"z":0.031},{"x":-15,"y":-14,"z":0.049},{"x":-14,"y":-14,"z":0.041},{"x":-13,"y":-14,"z":0.013},{"x":-12,"y":-14,"z":-0.022},{"x":-11,"y":-14,"z":-0.049},{"x":-10,"y":-14,"z":-0.058},{"x":-9,"y":-14,"z":-0.048},{"x":-8,"y":-14,"z":-0.025},{"x":-7,"y":-14,"z":0.004},{"x":-6,"y":-14,"z":0.03},{"x":-5,"y":-14,"z":0.05},{"x":-4,"y":-14,"z":0.063},{"x":-3,"y":-14,"z":0.069},{"x":-2,"y":-14,"z":0.071},{"x":-1,"y":-14,"z":0.071},{"x":0,"y":-14,"z":0.071},{"x":1,"y":-14,"z":0.071},{"x":2,"y":-14,"z":0.071},{"x":3,"y":-14,"z":0.069},{"x":4,"y":-14,"z":0.063},{"x":5,"y":-14,"z":0.05},{"x":6,"y":-14,"z":0.03},{"x":7,"y":-14,"z":0.004},{"x":8,"y":-14,"z":-0.025},{"x":9,"y":-14,"z":-0.048},{"x":10,"y":-14,"z":-0.058},{"x":11,"y":-14,"z":-0.049},{"x":12,"y":-14,"z":-0.022},{"x":13,"y":-14,"z":0.013},{"x":14,"y":-14,"z":0.041},{"x":15,"y":-14,"z":0.049},{"x":16,"y":-14,"z":0.031},
{"x":-16,"y":-15,"z":0.003},{"x":-15,"y":-15,"z":0.033},{"x":-14,"y":-15,"z":0.049},{"x":-13,"y":-15,"z":0.042},{"x":-12,"y":-15,"z":0.018},{"x":-11,"y":-15,"z":-0.013},{"x":-10,"y":-15,"z":-0.041},{"x":-9,"y":-15,"z":-0.056},{"x":-8,"y":-15,"z":-0.056},{"x":-7,"y":-15,"z":-0.045},{"x":-6,"y":-15,"z":-0.027},{"x":-5,"y":-15,"z":-0.007},{"x":-4,"y":-15,"z":0.012},{"x":-3,"y":-15,"z":0.026},{"x":-2,"y":-15,"z":0.036},{"x":-1,"y":-15,"z":0.042},{"x":0,"y":-15,"z":0.043},{"x":1,"y":-15,"z":0.042},{"x":2,"y":-15,"z":0.036},{"x":3,"y":-15,"z":0.026},{"x":4,"y":-15,"z":0.012},{"x":5,"y":-15,"z":-0.007},{"x":6,"y":-15,"z":-0.027},{"x":7,"y":-15,"z":-0.045},{"x":8,"y":-15,"z":-0.056},{"x":9,"y":-15,"z":-0.056},{"x":10,"y":-15,"z":-0.041},{"x":11,"y":-15,"z":-0.013},{"x":12,"y":-15,"z":0.018},{"x":13,"y":-15,"z":0.042},{"x":14,"y":-15,"z":0.049},{"x":15,"y":-15,"z":0.033},{"x":16,"y":-15,"z":0.003},
{"x":-16,"y":-16,"z":-0.026},{"x":-15,"y":-16,"z":0.003},{"x":-14,"y":-16,"z":0.031},{"x":-13,"y":-16,"z":0.048},{"x":-12,"y":-16,"z":0.046},{"x":-11,"y":-16,"z":0.028},{"x":-10,"y":-16,"z":0.001},{"x":-9,"y":-16,"z":-0.026},{"x":-8,"y":-16,"z":-0.046},{"x":-7,"y":-16,"z":-0.056},{"x":-6,"y":-16,"z":-0.057},{"x":-5,"y":-16,"z":-0.052},{"x":-4,"y":-16,"z":-0.043},{"x":-3,"y":-16,"z":-0.033},{"x":-2,"y":-16,"z":-0.025},{"x":-1,"y":-16,"z":-0.02},{"x":0,"y":-16,"z":-0.018},{"x":1,"y":-16,"z":-0.02},{"x":2,"y":-16,"z":-0.025},{"x":3,"y":-16,"z":-0.033},{"x":4,"y":-16,"z":-0.043},{"x":5,"y":-16,"z":-0.052},{"x":6,"y":-16,"z":-0.057},{"x":7,"y":-16,"z":-0.056},{"x":8,"y":-16,"z":-0.046},{"x":9,"y":-16,"z":-0.026},{"x":10,"y":-16,"z":0.001},{"x":11,"y":-16,"z":0.028},{"x":12,"y":-16,"z":0.046},{"x":13,"y":-16,"z":0.048},{"x":14,"y":-16,"z":0.031},{"x":15,"y":-16,"z":0.003},{"x":16,"y":-16,"z":-0.026}
]},
"data":{"name":"axes"},
"transform":[
{"calculate":"(datum.x+18.3)/36.6","as":"u"},{"calculate":"(datum.y+18.3)/36.6","as":"v"},{"calculate":"(datum.z+0.236)/1.266","as":"w"},
{"calculate":"1-0.0568*datum.u+0.0995*datum.v-0.027*datum.w","as":"den"},
{"calculate":"(103.3+983*datum.u+689.8*datum.v-23*datum.w)/datum.den","as":"sx"},
{"calculate":"(943.3+263.3*datum.u-454.1*datum.v-431.7*datum.w)/datum.den","as":"sy"}],
"encoding":{"x":{"field":"sx","type":"quantitative","scale":{"domain":[0,1927],"nice":false,"zero":false},"axis":null},"y":{"field":"sy","type":"quantitative","scale":{"domain":[1388,0],"nice":false,"zero":false},"axis":null}},
"layer":[
{"transform":[{"filter":"datum.k=='pL'"}],"mark":{"type":"line","fill":"#fcfcfc","stroke":null},"encoding":{"order":{"field":"o","type":"quantitative"}}},
{"transform":[{"filter":"datum.k=='pR'"}],"mark":{"type":"line","fill":"#f8f8f8","stroke":null},"encoding":{"order":{"field":"o","type":"quantitative"}}},
{"transform":[{"filter":"datum.k=='pF'"}],"mark":{"type":"line","fill":"#fafafa","stroke":null},"encoding":{"order":{"field":"o","type":"quantitative"}}},
{"transform":[{"filter":"datum.k=='grid'"}],"mark":{"type":"line","stroke":"#b0b0b0","strokeWidth":2.7},"encoding":{"detail":{"field":"g"},"order":{"field":"o","type":"quantitative"}}},
{"transform":[{"filter":"datum.k=='axis'"}],"mark":{"type":"line","stroke":"black","strokeWidth":2.8},"encoding":{"detail":{"field":"g"},"order":{"field":"o","type":"quantitative"}}},
{"data":{"name":"surface"},"transform":[
{"window":[{"op":"lead","field":"z","param":1,"as":"zn"}],"groupby":["x"],"sort":[{"field":"y","order":"ascending"}]},
{"window":[{"op":"lead","field":"z","param":1,"as":"ze"},{"op":"lead","field":"zn","param":1,"as":"zne"}],"groupby":["y"],"sort":[{"field":"x","order":"ascending"}]},
{"filter":"datum.x<16&&datum.y<16"},
{"calculate":"(datum.z+datum.ze+datum.zn+datum.zne)/4","as":"zm"},
{"calculate":"'c'+datum.x+'_'+datum.y","as":"cell"},
{"calculate":"[0,1,2,3,4]","as":"c"},
{"flatten":["c"]},
{"calculate":"datum.x+((datum.c==1||datum.c==2)?1:0)","as":"px"},
{"calculate":"datum.y+((datum.c==2||datum.c==3)?1:0)","as":"py"},
{"calculate":"datum.c==1?datum.ze:datum.c==2?datum.zne:datum.c==3?datum.zn:datum.z","as":"pz"},
{"calculate":"(datum.px+18.3)/36.6","as":"u"},{"calculate":"(datum.py+18.3)/36.6","as":"v"},{"calculate":"(datum.pz+0.236)/1.266","as":"w"},
{"calculate":"1-0.0568*datum.u+0.0995*datum.v-0.027*datum.w","as":"den"},
{"calculate":"(103.3+983*datum.u+689.8*datum.v-23*datum.w)/datum.den","as":"sx"},
{"calculate":"(943.3+263.3*datum.u-454.1*datum.v-431.7*datum.w)/datum.den","as":"sy"}],
"mark":{"type":"line","stroke":"black","strokeWidth":3.4,"strokeJoin":"round"},
"encoding":{"detail":{"field":"cell"},"order":{"field":"c","type":"quantitative"},"fill":{"field":"zm","type":"quantitative","scale":{"scheme":"viridis","domain":[-0.217,0.9]},"legend":null}}},
{"transform":[{"filter":"datum.k=='xt'"}],"mark":{"type":"text","font":"DejaVu Serif","fontSize":41,"fill":"#808080","align":"center","baseline":"middle","dx":-34,"dy":76},"encoding":{"text":{"field":"t"}}},
{"transform":[{"filter":"datum.k=='yt'"}],"mark":{"type":"text","font":"DejaVu Serif","fontSize":41,"fill":"#808080","align":"center","baseline":"middle","dx":60,"dy":62},"encoding":{"text":{"field":"t"}}},
{"transform":[{"filter":"datum.k=='zt'"}],"mark":{"type":"text","font":"DejaVu Serif","fontSize":41,"fill":"#808080","align":"center","baseline":"middle","dx":84,"dy":8},"encoding":{"text":{"field":"t"}}},
{"transform":[{"filter":"datum.k=='xn'"}],"mark":{"type":"text","font":"Liberation Serif","fontStyle":"italic","fontSize":34,"fill":"#808080","align":"center","baseline":"middle","dx":-77,"dy":120},"encoding":{"text":{"field":"t"}}},
{"transform":[{"filter":"datum.k=='yn'"}],"mark":{"type":"text","font":"Liberation Serif","fontStyle":"italic","fontSize":34,"fill":"#808080","align":"center","baseline":"middle","dx":124,"dy":84},"encoding":{"text":{"field":"t"}}},
{"transform":[{"filter":"datum.k=='zn'"}],"mark":{"type":"text","font":"Liberation Serif","fontStyle":"italic","fontSize":34,"fill":"#808080","align":"center","baseline":"middle","dx":184,"dy":-20},"encoding":{"text":{"field":"t"}}}
]}
